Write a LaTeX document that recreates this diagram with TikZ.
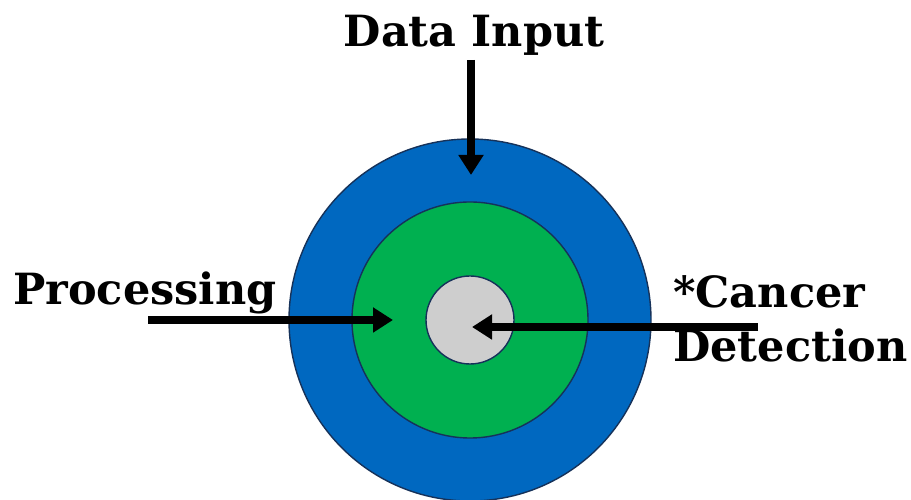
\documentclass[tikz,border=0pt]{standalone}
\usepackage{fontspec}
\setmainfont{DejaVu Serif}
\usetikzlibrary{shapes, arrows, arrows.meta}

\definecolor{ringblue}{RGB}{0,104,192}
\definecolor{ringgreen}{RGB}{0,176,80}
\definecolor{coregray}{RGB}{206,206,206}
\definecolor{rimline}{RGB}{22,50,90}

\tikzset{
  ring/.style={circle, draw=rimline, line width=1.4pt, inner sep=0pt},
  lbl/.style={font=\fontsize{43}{54}\selectfont\bfseries, inner sep=0pt},
  bigarrow/.style={line width=8pt, -{Triangle[length=20pt,width=24pt]}}
}

\begin{document}
\begin{tikzpicture}[x=1pt, y=1pt]
\useasboundingbox (0,0) rectangle (911,500);
\node[ring, fill=ringblue, minimum size=362pt] (outer) at (470,180) {};
\node[ring, fill=ringgreen, minimum size=236pt] (mid) at (470,180) {};
\node[ring, fill=coregray, minimum size=88pt] (core) at (470,180) {};
\node[lbl, anchor=base] (input) at (474,453) {Data Input};
\node[lbl, anchor=base west] (proc) at (13,195) {Processing};
\node[lbl, anchor=base west] (cancer) at (673,192) {*Cancer};
\node[lbl, anchor=base west] (detect) at (673,138) {Detection};
\coordinate (inA) at (471,440);
\coordinate (inB) at (471,325);
\coordinate (procA) at (148,180);
\coordinate (procB) at (393,180);
\coordinate (detA) at (758,173);
\coordinate (detB) at (472,173);
\draw[bigarrow] (inA)--(inB);
\draw[bigarrow] (procA)--(procB);
\draw[bigarrow] (detA)--(detB);
\end{tikzpicture}
\end{document}
